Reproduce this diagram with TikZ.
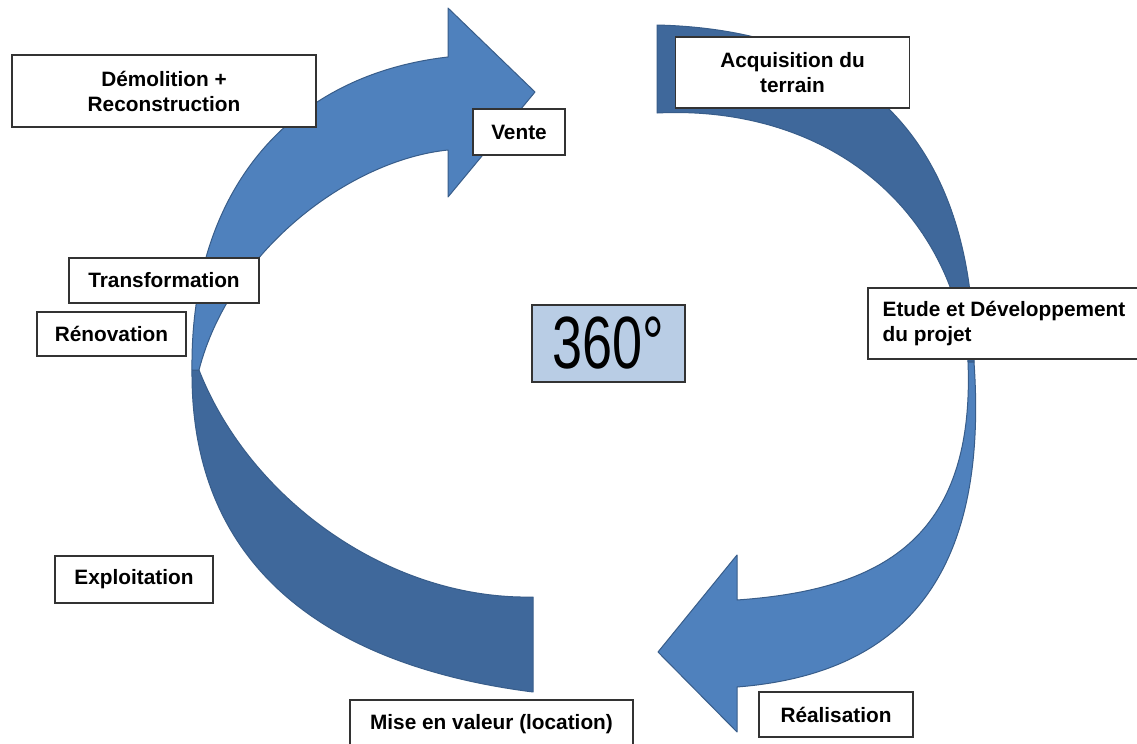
\documentclass[tikz,border=0pt]{standalone}
\usepackage{fontspec}
\setmainfont{Liberation Sans}
\newfontfamily\degfont[FakeStretch=0.73]{Liberation Sans}
\definecolor{bandlight}{HTML}{4F81BD}
\definecolor{banddark}{HTML}{3F689B}
\definecolor{bandedge}{HTML}{385D8A}
\definecolor{hubfill}{HTML}{B9CDE5}
\tikzstyle{phase} = [rectangle, draw=black!80, line width=0.9pt, fill=white, text centered, align=center, inner sep=0pt]
\tikzstyle{hub} = [rectangle, draw=black!80, line width=0.9pt, fill=hubfill, inner sep=0pt]
\tikzstyle{band} = [draw=bandedge, line width=0.5pt, line join=round]

\begin{document}
\begin{tikzpicture}[x=0.5pt, y=-0.5pt]
    \tikzstyle{every node}=[font=\bfseries\fontsize{10.4}{12.5}\selectfont]
    \fill[white] (0,0) rectangle (1137,744);
    \useasboundingbox (0,0) rectangle (1137,744);

    % left arrow: back part, then front part with head
    \path[band, fill=banddark] (192,370) .. controls (190,590) and (360,670) .. (533,692)
        -- (533,597) .. controls (390,600) and (250,500) .. (199,370) -- cycle;
    \path[band, fill=bandlight] (192,370) .. controls (190,190) and (290,75) .. (448,57)
        -- (448,8) -- (535,92) -- (448,197) -- (448,150)
        .. controls (350,160) and (230,250) .. (199,370) -- cycle;

    % right arrow: back part, then front part with head
    \path[band, fill=banddark] (657,25) .. controls (860,30) and (975,140) .. (974,362)
        -- (968,362) .. controls (950,200) and (820,105) .. (657,113) -- cycle;
    \path[band, fill=bandlight] (974,362) .. controls (990,590) and (890,675) .. (737,687)
        -- (737,732) -- (658,652) -- (737,555) -- (737,600)
        .. controls (880,590) and (975,540) .. (968,362) -- cycle;

    \node (demol) [phase, minimum width=152pt, minimum height=36pt] at (164,91) {Démolition +\\Reconstruction};
    \node (vente) [phase, minimum width=46pt, minimum height=23pt] at (519,132) {Vente};
    \node (acq) [phase, minimum width=117pt, minimum height=35.5pt] at (792.5,72.5) {Acquisition du\\terrain};
    \node (trans) [phase, minimum width=95pt, minimum height=22.5pt] at (164,280.5) {Transformation};
    \node (reno) [phase, minimum width=74.5pt, minimum height=22pt] at (111.5,334) {Rénovation};
    \node (etude) [phase, align=left, minimum width=136pt, minimum height=35.5pt] at (1004,323.5) {Etude et Développement\\du projet};
    \node (tour) [hub, minimum width=76.5pt, minimum height=38.5pt, font=\degfont\fontsize{37}{40}\selectfont] at (608.5,343.5) {360°};
    \node (exploit) [phase, minimum width=79pt, minimum height=23.5pt] at (134,579.5) {Exploitation};
    \node (mise) [phase, minimum width=141.5pt, minimum height=24pt] at (491.5,724) {Mise en valeur (location)};
    \node (real) [phase, minimum width=77pt, minimum height=22.5pt] at (836,714.5) {Réalisation};

\end{tikzpicture}
\end{document}
